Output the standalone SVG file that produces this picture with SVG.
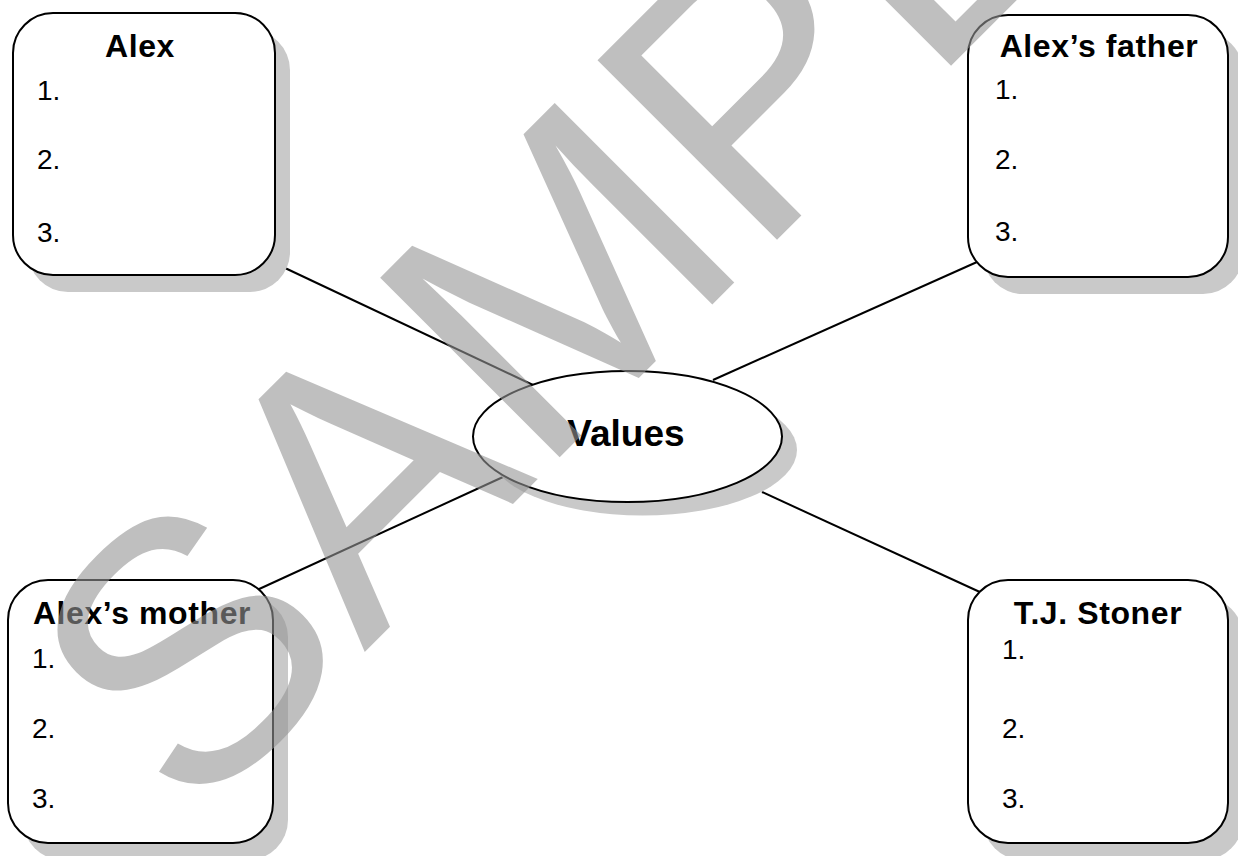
<svg xmlns="http://www.w3.org/2000/svg" width="1238" height="856" viewBox="0 0 1238 856">
<style>
.shadow{fill:#c9c9c9;stroke:none}
.box{fill:#fff;stroke:#000;stroke-width:2}
.title{font-family:"Liberation Sans",Arial,sans-serif;font-weight:bold;font-size:32px;letter-spacing:0.6px;fill:#000;text-anchor:middle}
.num{font-family:"Liberation Sans",Arial,sans-serif;font-size:28px;fill:#000}
.conn{stroke:#000;stroke-width:2;fill:none}
.wm{font-family:"Liberation Sans",Arial,sans-serif;font-size:369px;fill:#959595;opacity:0.6}
</style>
<rect width="1238" height="856" fill="#fff"/>
<g id="connectors">
<line class="conn" x1="285" y1="268" x2="533" y2="385"/>
<line class="conn" x1="977" y1="262" x2="713" y2="380"/>
<line class="conn" x1="257" y1="590" x2="503" y2="477"/>
<line class="conn" x1="762" y1="492" x2="982" y2="593"/>
</g>
<g id="alex">
<rect class="shadow" x="28" y="30" width="262" height="262" rx="40"/>
<rect class="box" x="13" y="13" width="262" height="262" rx="40"/>
<text class="title" x="140" y="57">Alex</text>
<text class="num" x="37" y="100">1.</text>
<text class="num" x="37" y="169">2.</text>
<text class="num" x="37" y="242">3.</text>
</g>
<g id="father">
<rect class="shadow" x="983" y="32" width="260" height="262" rx="40"/>
<rect class="box" x="968" y="15" width="260" height="262" rx="40"/>
<text class="title" x="1099" y="57">Alex’s father</text>
<text class="num" x="995" y="99">1.</text>
<text class="num" x="995" y="169">2.</text>
<text class="num" x="995" y="241">3.</text>
</g>
<g id="values">
<ellipse class="shadow" cx="642.5" cy="450" rx="154.5" ry="65.5"/>
<ellipse class="box" cx="627.5" cy="436.5" rx="154.5" ry="65.5"/>
<text class="title" x="626" y="446" style="font-size:37px;letter-spacing:0">Values</text>
</g>
<g id="mother">
<rect class="shadow" x="23" y="597" width="265" height="263" rx="40"/>
<rect class="box" x="8" y="580" width="265" height="263" rx="40"/>
<text class="title" x="142" y="624">Alex’s mother</text>
<text class="num" x="32" y="668">1.</text>
<text class="num" x="32" y="738">2.</text>
<text class="num" x="32" y="808">3.</text>
</g>
<g id="stoner">
<rect class="shadow" x="983" y="597" width="260" height="263" rx="40"/>
<rect class="box" x="968" y="580" width="260" height="263" rx="40"/>
<text class="title" x="1098" y="624">T.J. Stoner</text>
<text class="num" x="1002" y="659">1.</text>
<text class="num" x="1002" y="738">2.</text>
<text class="num" x="1002" y="808">3.</text>
</g>
<text class="wm" transform="rotate(-45)" x="-450" y="719">SAMPLE</text>
</svg>
